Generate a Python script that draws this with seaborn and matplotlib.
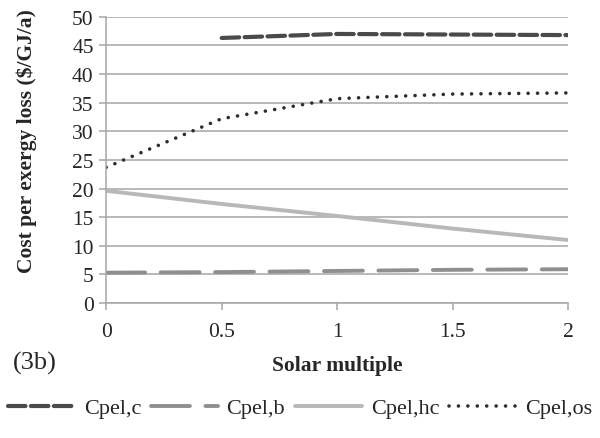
import pandas as pd
import seaborn as sns
import matplotlib.pyplot as plt

# solar multiple values
sm = [0, 0.5, 1.0, 1.5, 2.0]
sm_c = [0.5, 1.0, 1.5, 2.0]

cpel_c = [46.3, 47.0, 46.9, 46.8]
cpel_b = [5.3, 5.4, 5.6, 5.8, 5.9]
cpel_hc = [19.6, 17.3, 15.2, 13.0, 11.0]
cpel_os = [23.7, 32.2, 35.7, 36.5, 36.7]

series = ["Cpel,c", "Cpel,b", "Cpel,hc", "Cpel,os"]

frames = [
    pd.DataFrame({"x": sm_c, "y": cpel_c, "s": "Cpel,c"}),
    pd.DataFrame({"x": sm, "y": cpel_b, "s": "Cpel,b"}),
    pd.DataFrame({"x": sm, "y": cpel_hc, "s": "Cpel,hc"}),
    pd.DataFrame({"x": sm, "y": cpel_os, "s": "Cpel,os"}),
]
df = pd.concat(frames, ignore_index=True)

sns.set_style("white")
plt.rcParams["font.family"] = ["Liberation Serif", "DejaVu Serif"]

colors = {"Cpel,c": "#4a4a4a", "Cpel,b": "#8f8f8f",
          "Cpel,hc": "#b8b8b8", "Cpel,os": "#2e2e2e"}
dashes = {"Cpel,c": (4.2, 1.3), "Cpel,b": (10, 4), "Cpel,hc": "",
          "Cpel,os": (0.01, 2.6)}
widths = {"Cpel,c": 3.0, "Cpel,b": 2.8, "Cpel,hc": 2.8, "Cpel,os": 2.6}

fig = plt.figure(figsize=(6, 4.39), dpi=100)
ax = fig.add_axes([0.177, 0.3075, 0.77, 0.652])

ax.yaxis.grid(True, color="#a6a6a6", lw=1.1)
ax.set_axisbelow(True)

sns.lineplot(data=df, x="x", y="y", hue="s", style="s", palette=colors,
             dashes=dashes, hue_order=series, style_order=series,
             legend=False, ax=ax)
for line, name in zip(ax.get_lines(), series):
    line.set_linewidth(widths[name])
    line.set_dash_capstyle("round")
    line.set_solid_capstyle("round")

ax.set_xlim(0, 2)
ax.set_ylim(0, 50)
ax.set_xticks([0, 0.5, 1, 1.5, 2])
ax.set_xticklabels(["0", "0.5", "1", "1.5", "2"])
ax.set_yticks(range(0, 51, 5))
ax.tick_params(axis="both", labelsize=15.5, color="#a6a6a6", length=5,
               width=1.1, direction="out", left=True, bottom=True)
ax.tick_params(axis="x", pad=9)
ax.tick_params(axis="y", pad=4)
for sp in ["top", "right"]:
    ax.spines[sp].set_visible(False)
for sp in ["left", "bottom"]:
    ax.spines[sp].set_color("#a6a6a6")
    ax.spines[sp].set_linewidth(1.1)

ax.set_xlabel("Solar multiple", fontsize=15.5, fontweight="bold", labelpad=10)
ax.set_ylabel("Cost per exergy loss ($/GJ/a)", fontsize=15.5,
              fontweight="bold")
ax.yaxis.set_label_coords(-0.149, 0.57)
fig.text(0.022, 0.173, "(3b)", fontsize=19, va="center")

handles = []
for name in series:
    h, = ax.plot([], [], color=colors[name], lw=widths[name],
                 dash_capstyle="round", solid_capstyle="round")
    if dashes[name]:
        h.set_dashes(dashes[name])
    handles.append(h)
fig.legend(handles, series, loc="center", bbox_to_anchor=(0.5, 0.068),
           ncol=4, frameon=False, fontsize=16, handlelength=3.0,
           columnspacing=0.45, handletextpad=0.4)

fig.savefig("out.png", dpi=100)
